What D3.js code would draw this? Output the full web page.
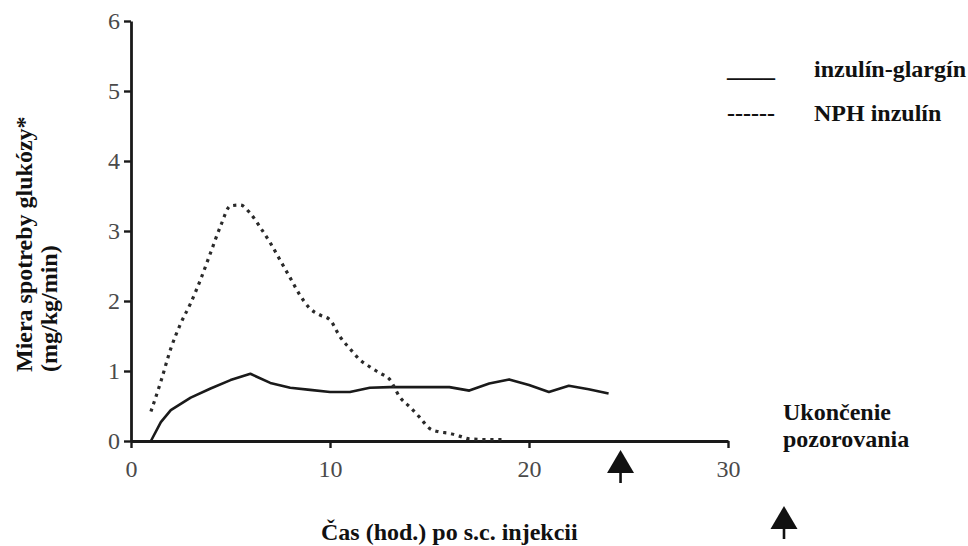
<!DOCTYPE html>
<html>
<head>
<meta charset="utf-8">
<script src="https://cdn.jsdelivr.net/npm/d3@7"></script>
<style>
  body { margin: 0; background: #fff; }
  svg { display: block; font-family: "Liberation Serif", "Times New Roman", serif; }
  .tick text { fill: #4a4a4a; font-size: 24px; font-family: "Liberation Serif", "Times New Roman", serif; }
  .lbl { font-weight: bold; font-size: 24px; fill: #111; }
</style>
</head>
<body>
<svg id="chart" width="968" height="546"></svg>
<script>
// glargin - plna ciara
const glarginHours = [1, 1.5, 2, 3, 4, 5, 6, 7, 8, 9, 10, 11, 12, 13, 14, 15, 16, 17, 18, 19, 20, 21, 22, 23, 24];
const glarginRate  = [0, 0.27, 0.44, 0.62, 0.75, 0.87, 0.96, 0.83, 0.76, 0.73, 0.70, 0.70, 0.76, 0.77, 0.77, 0.77, 0.77, 0.72, 0.82, 0.88, 0.80, 0.70, 0.79, 0.74, 0.68];

// NPH - bodkovana ciara
const nphHours = [1, 1.5, 2, 2.5, 3, 3.5, 4, 4.5, 5, 5.5, 6, 6.5, 7, 7.5, 8, 8.5, 9, 9.5, 10, 10.5, 11, 11.5, 12, 12.5, 13, 13.5, 14, 14.5, 15, 15.5, 16, 16.5, 17, 18, 18.7];
const nphRate  = [0.42, 0.85, 1.32, 1.68, 1.97, 2.31, 2.69, 3.07, 3.36, 3.37, 3.25, 3.05, 2.83, 2.58, 2.33, 2.08, 1.89, 1.80, 1.73, 1.49, 1.32, 1.16, 1.06, 0.97, 0.88, 0.63, 0.49, 0.34, 0.18, 0.13, 0.11, 0.07, 0.03, 0.02, 0.02];

const xTicks = [0, 10, 20, 30];
const yTicks = [0, 1, 2, 3, 4, 5, 6];
const endObservation = 24.6; // sipka - ukoncenie pozorovania

const legendLabels = ["inzulín-glargín", "NPH inzulín"];
const legendGlyphs = ["____", "------"];

const svg = d3.select("#chart");

const x = d3.scaleLinear().domain([0, 30]).range([131, 728]);
const y = d3.scaleLinear().domain([0, 6]).range([441, 21]);

// axes
const gx = svg.append("g").attr("transform", `translate(0,${y(0)})`)
    .call(d3.axisBottom(x).tickValues(xTicks).tickFormat(d3.format("d"))
        .tickSize(7).tickSizeOuter(0).tickPadding(6));
const gy = svg.append("g").attr("transform", `translate(${x(0)},0)`)
    .call(d3.axisLeft(y).tickValues(yTicks).tickFormat(d3.format("d"))
        .tickSize(7).tickSizeOuter(0).tickPadding(4));

[gx, gy].forEach(g => {
    g.attr("font-family", null).attr("font-size", null);
    g.select(".domain").attr("stroke", "#1a1a1a").attr("stroke-width", 2.8);
    g.selectAll(".tick line").attr("stroke", "#1a1a1a").attr("stroke-width", 2.4);
});
gx.selectAll(".tick text").attr("dy", "0.95em");

// curves
const glarginLine = d3.line()
    .x(d => x(d[0]))
    .y(d => y(d[1]));

const nphLine = d3.line()
    .x(d => x(d[0]))
    .y(d => y(d[1]))
    .curve(d3.curveMonotoneX);

svg.append("path")
    .datum(d3.zip(glarginHours, glarginRate))
    .attr("fill", "none")
    .attr("stroke", "#1a1a1a")
    .attr("stroke-width", 2.6)
    .attr("stroke-linejoin", "round")
    .attr("d", glarginLine);

svg.append("path")
    .datum(d3.zip(nphHours, nphRate))
    .attr("fill", "none")
    .attr("stroke", "#2a2a2a")
    .attr("stroke-width", 3.2)
    .attr("stroke-dasharray", "3.2,4.8")
    .attr("d", nphLine);

// arrow helper
function arrow(cx, top) {
    svg.append("path")
        .attr("d", `M${cx},${top} L${cx + 13.5},${top + 23} L${cx - 13.5},${top + 23} Z`)
        .attr("fill", "#111");
    svg.append("line")
        .attr("x1", cx).attr("x2", cx)
        .attr("y1", top + 22).attr("y2", top + 33)
        .attr("stroke", "#111").attr("stroke-width", 2.6);
}
arrow(x(endObservation), 450);
arrow(784, 506);

// titles
svg.append("text").attr("class", "lbl")
    .attr("x", 321).attr("y", 540)
    .text("Čas (hod.) po s.c. injekcii");

svg.append("text").attr("class", "lbl")
    .attr("transform", "translate(32,372) rotate(-90)")
    .text("Miera spotreby glukózy*");
svg.append("text").attr("class", "lbl")
    .attr("transform", "translate(57,372) rotate(-90)")
    .text("(mg/kg/min)");

// annotation
svg.append("text").attr("class", "lbl").attr("x", 783).attr("y", 420).text("Ukončenie");
svg.append("text").attr("class", "lbl").attr("x", 783).attr("y", 447).text("pozorovania");

// legend
const legendY = [77, 121];
legendLabels.forEach((t, i) => {
    svg.append("text").attr("class", "lbl").attr("x", 727).attr("y", legendY[i]).text(legendGlyphs[i]);
    svg.append("text").attr("class", "lbl").attr("x", 814).attr("y", legendY[i]).text(t);
});
</script>
</body>
</html>
